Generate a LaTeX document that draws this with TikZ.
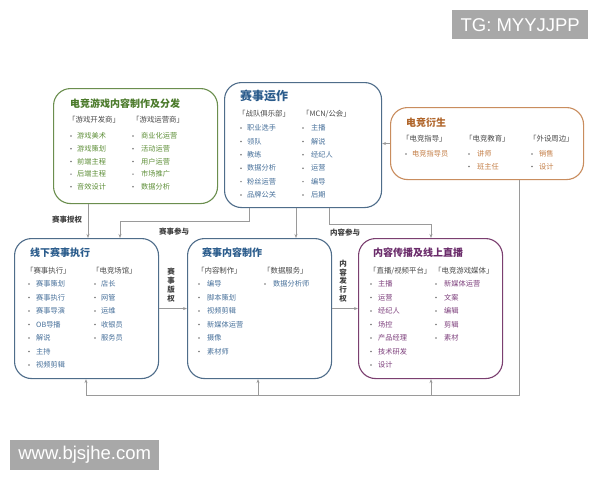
\documentclass[tikz,border=0pt]{standalone}
\usepackage{fontspec}
\setmainfont{Noto Sans CJK SC}
\newfontfamily\wmfont{Liberation Sans}
\usetikzlibrary{arrows.meta}
\definecolor{gbd}{HTML}{6B8E4E}
\definecolor{gtt}{HTML}{4B7A2B}
\definecolor{gtx}{HTML}{5E8F38}
\definecolor{bbd}{HTML}{4F6D8A}
\definecolor{btt}{HTML}{2B5C8C}
\definecolor{btx}{HTML}{47709A}
\definecolor{obd}{HTML}{C98D5E}
\definecolor{ott}{HTML}{B0652A}
\definecolor{otx}{HTML}{C47E46}
\definecolor{pbd}{HTML}{7B3F70}
\definecolor{ptt}{HTML}{6A2B6A}
\definecolor{ptx}{HTML}{7D3F7C}
\definecolor{hdrgray}{HTML}{4A4A4A}
\definecolor{lngray}{HTML}{9A9A9A}
\definecolor{labgray}{HTML}{404040}
\definecolor{wmgray}{HTML}{A8A8A8}
\newcommand\itemlist[7]{%
  \foreach \t [count=\i from 0] in {#6} {
    \node[bul] (#7b\i) at (#1,#3+#4*\i) {};
    \node[item,text=#5] (#7t\i) at (#2,#3+#4*\i) {\t};
  }}
\begin{document}
\begin{tikzpicture}[x=1pt,y=-1pt,
  box/.style={draw, rounded corners=17pt, line width=1.1pt, anchor=north west, inner sep=0pt},
  item/.style={anchor=west, inner sep=0pt, font=\fontsize{7.2}{8}\selectfont},
  hdr/.style={item, text=hdrgray, font=\fontsize{7.4}{8}\selectfont},
  ttl/.style={anchor=west, inner sep=0pt, font=\fontsize{10}{12}\selectfont\bfseries},
  bul/.style={circle, fill=black!55, inner sep=0pt, minimum size=1.7pt},
  lab/.style={inner sep=0pt, text=labgray, font=\fontsize{7.5}{8.8}\selectfont\bfseries, align=center},
  line/.style={draw=lngray, line width=0.8pt},
  arr/.style={line, -{Stealth[length=4pt,width=3pt]}},
  wm/.style={fill=wmgray, text=white, inner sep=0pt, anchor=north west, font=\wmfont\fontsize{18.5}{18.5}\selectfont}]
\useasboundingbox (0,0) rectangle (600,480);
\fill[white] (0,0) rectangle (600,480);

% boxes
\node[box, draw=gbd, minimum width=164pt, minimum height=115pt] (G) at (53,88) {};
\node[box, draw=bbd, minimum width=157pt, minimum height=125pt] (T) at (224,82) {};
\node[box, draw=obd, minimum width=193pt, minimum height=72pt] (O) at (390,107) {};
\node[box, draw=bbd, minimum width=144pt, minimum height=140pt] (L) at (14,238) {};
\node[box, draw=bbd, minimum width=144pt, minimum height=140pt] (M) at (187,238) {};
\node[box, draw=pbd, minimum width=144pt, minimum height=140pt] (R) at (358,238) {};

% green box
\node[ttl, text=gtt] (Gt) at (70,104) {电竞游戏内容制作及分发};
\node[hdr] (Gh1) at (68,120) {「游戏开发商」};
\node[hdr] (Gh2) at (132,120) {「游戏运营商」};
\itemlist{71}{77}{136}{12.7}{gtx}{游戏美术,游戏策划,前端主程,后端主程,音效设计}{ga}
\itemlist{133}{141}{136}{12.7}{gtx}{商业化运营,活动运营,用户运营,市场推广,数据分析}{gb}

% top blue box
\node[ttl, text=btt, font=\fontsize{12}{14}\selectfont\bfseries] (Tt) at (240,96) {赛事运作};
\node[hdr] (Th1) at (238,114) {「战队俱乐部」};
\node[hdr] (Th2) at (302,114) {「MCN/公会」};
\itemlist{241}{247}{128}{13.4}{btx}{职业选手,领队,教练,数据分析,粉丝运营,品牌公关}{ta}
\itemlist{303}{311}{128}{13.4}{btx}{主播,解说,经纪人,运营,编导,后期}{tb}

% orange box
\node[ttl, text=ott] (Ot) at (406,123) {电竞衍生};
\node[hdr] (Oh1) at (402,139) {「电竞指导」};
\node[hdr] (Oh2) at (465,139) {「电竞教育」};
\node[hdr] (Oh3) at (529,139) {「外设周边」};
\itemlist{406}{412}{154}{12.5}{otx}{电竞指导员}{oa}
\itemlist{469}{477}{154}{12.5}{otx}{讲师,班主任}{ob}
\itemlist{532}{539}{154}{12.5}{otx}{销售,设计}{oc}

% bottom left
\node[ttl, text=btt] (Lt) at (30,253) {线下赛事执行};
\node[hdr] (Lh1) at (26,271) {「赛事执行」};
\node[hdr] (Lh2) at (92,271) {「电竞场馆」};
\itemlist{29}{36}{284}{13.5}{btx}{赛事策划,赛事执行,赛事导演,OB导播,解说,主持,视频剪辑}{la}
\itemlist{95}{101}{284}{13.5}{btx}{店长,网管,运维,收银员,服务员}{lb}

% bottom middle
\node[ttl, text=btt] (Mt) at (202,253) {赛事内容制作};
\node[hdr] (Mh1) at (197,271) {「内容制作」};
\node[hdr] (Mh2) at (263,271) {「数据服务」};
\itemlist{199}{207}{284}{13.5}{btx}{编导,脚本策划,视频剪辑,新媒体运营,摄像,素材师}{ma}
\itemlist{265}{273}{284}{13.5}{btx}{数据分析师}{mb}

% bottom right
\node[ttl, text=ptt] (Rt) at (373,253) {内容传播及线上直播};
\node[hdr] (Rh1) at (369,271) {「直播/视频平台」};
\node[hdr] (Rh2) at (434,271) {「电竞游戏媒体」};
\itemlist{371}{378}{284}{13.5}{ptx}{主播,运营,经纪人,场控,产品经理,技术研发,设计}{ra}
\itemlist{436}{444}{284}{13.5}{ptx}{新媒体运营,文案,编辑,剪辑,素材}{rb}

% connectors
\draw[arr] ([xshift=35pt]G.south west) -- ([xshift=35pt]G.south west |- L.north);
\draw[arr] ([xshift=25pt]T.south west) -- ++(0,13) -| ([xshift=106pt]L.north west);
\draw[arr] ([xshift=72pt]T.south west) -- ([xshift=72pt]T.south west |- M.north);
\draw[arr] ([xshift=105pt]T.south west) -- ++(0,16) -| ([xshift=73pt]R.north west);
\draw[arr] (O.west) -- (O.west -| T.east);
\draw[arr] (L.east) -- (M.west);
\draw[arr] (M.east) -- (R.west);
\coordinate (busL) at (86,395);
\coordinate (busM) at (258,395);
\coordinate (busR) at (431,395);
\draw[line] ([xshift=129pt]O.south west) |- (busL);
\draw[arr] (busL) -- (busL |- L.south);
\draw[arr] (busM) -- (busM |- M.south);
\draw[arr] (busR) -- (busR |- R.south);

% labels
\node[lab] (l1) at (67,220) {赛事授权};
\node[lab] (l2) at (174,232) {赛事参与};
\node[lab] (l3) at (345,233) {内容参与};
\node[lab] (l4) at (171,285) {赛\\事\\版\\权};
\node[lab] (l5) at (343,281) {内\\容\\发\\行\\权};

% watermarks
\node[wm, minimum width=136pt, minimum height=29pt] (wm1) at (452,10) {TG: MYYJJPP};
\node[wm, minimum width=149pt, minimum height=30pt] (wm2) at (10,440) {www.bjsjhe.com};
\end{tikzpicture}
\end{document}
